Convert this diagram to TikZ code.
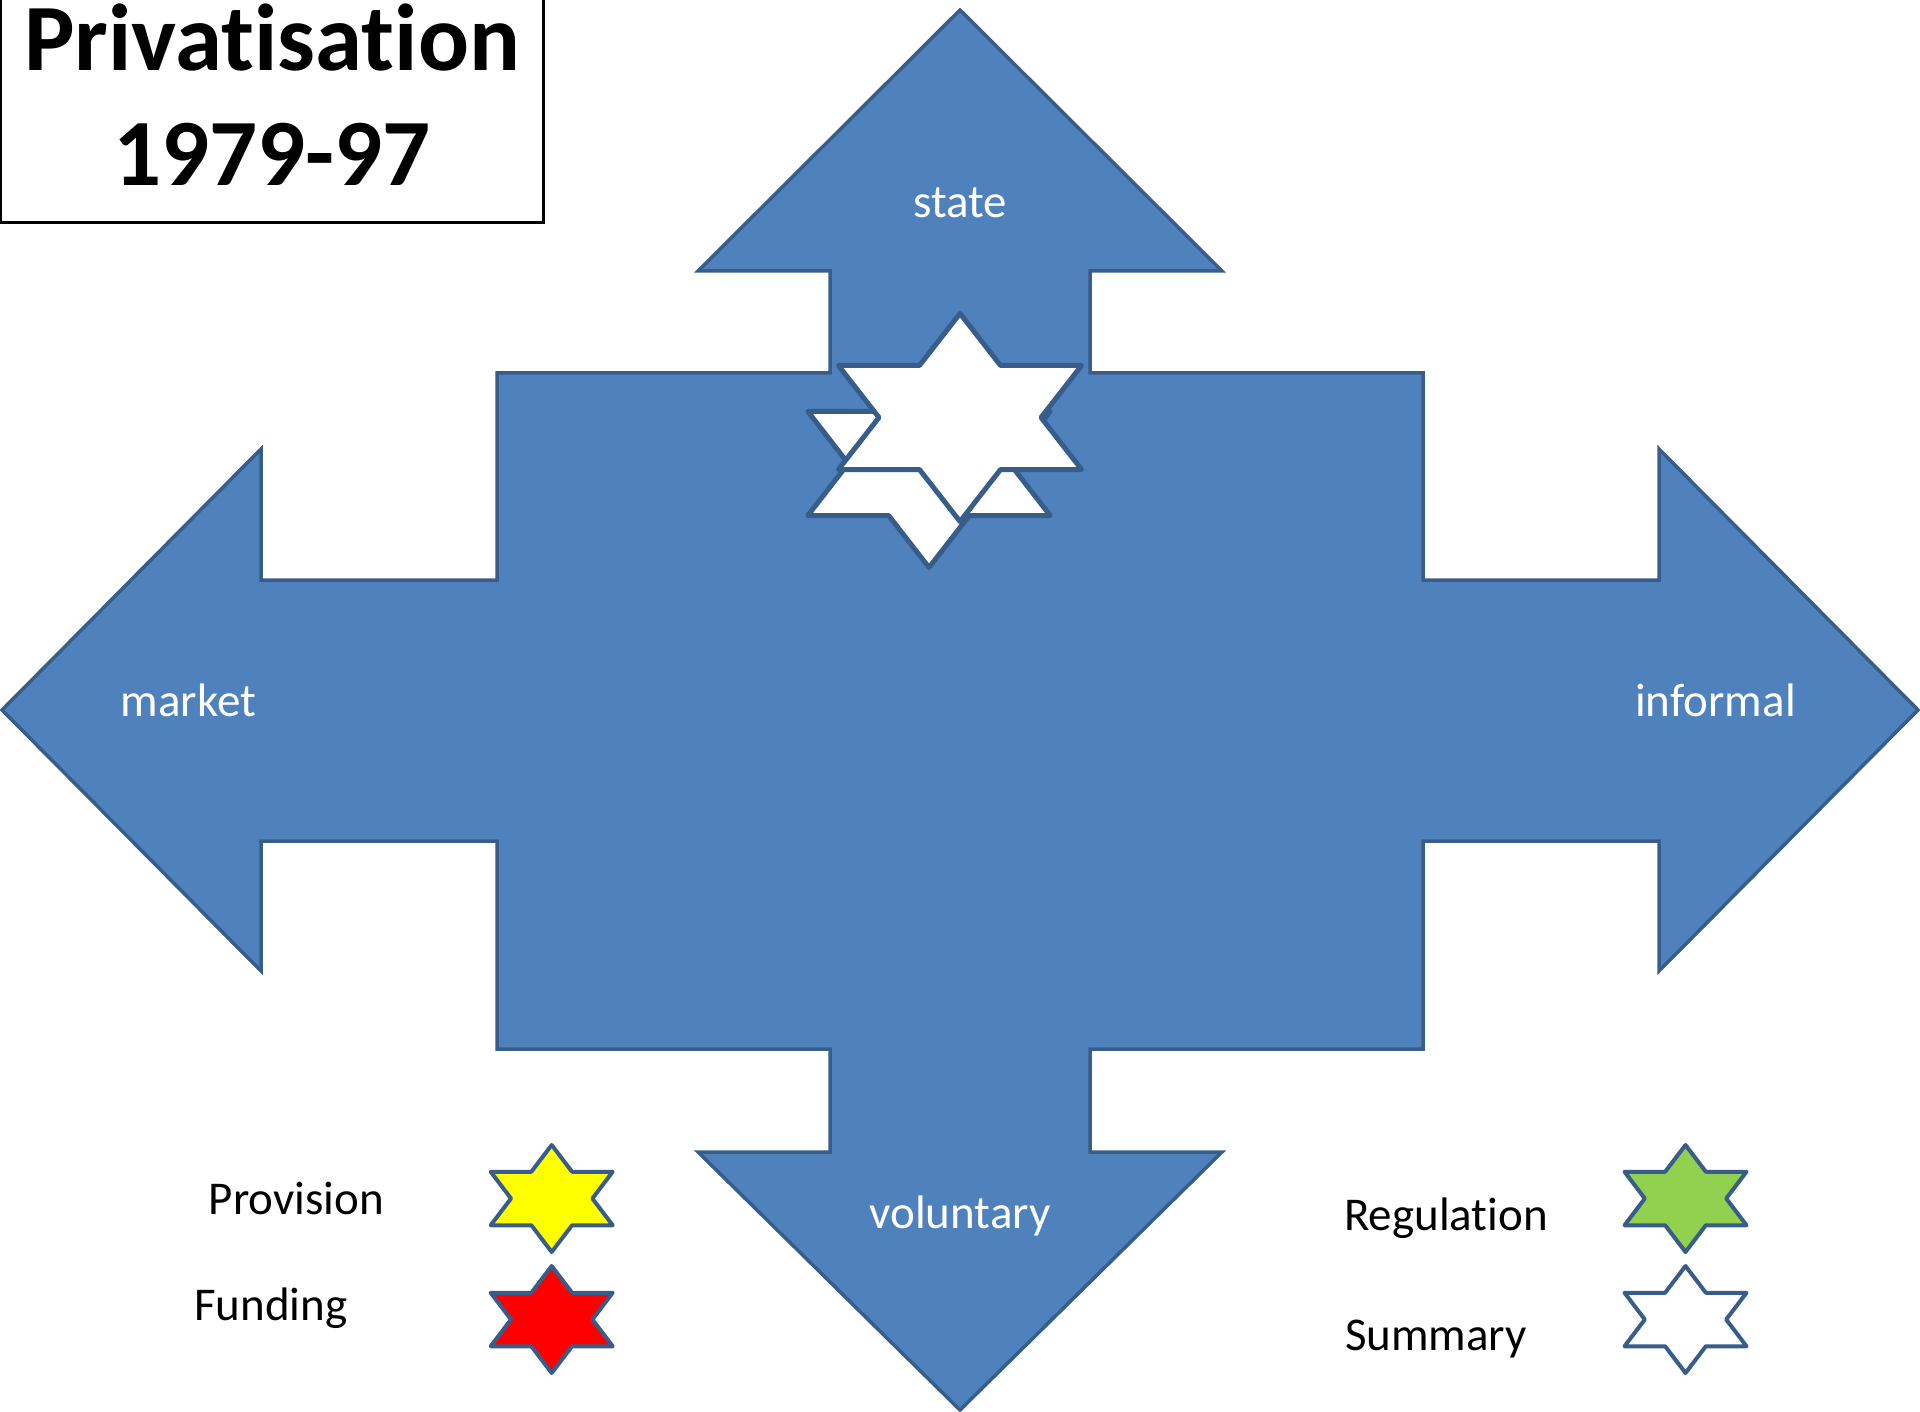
\documentclass[tikz,border=0pt]{standalone}
\usepackage{fontspec}
\setmainfont{Carlito}[RawFeature={-liga}]
\definecolor{arrowfill}{HTML}{4F81BD}
\definecolor{arrowline}{HTML}{385D8A}
\definecolor{provcol}{HTML}{FFFF00}
\definecolor{fundcol}{HTML}{FF0000}
\definecolor{regcol}{HTML}{92D050}
\newcommand\hexagramstar[6]{%
  \begin{scope}[shift={(#1,#2)},xscale=#4]
    \draw[starline,fill=#5,line width=#6]
      (90:#3) -- (60:#3/1.732) -- (30:#3) -- (0:#3/1.732) -- (330:#3) -- (300:#3/1.732)
      -- (270:#3) -- (240:#3/1.732) -- (210:#3) -- (180:#3/1.732) -- (150:#3) -- (120:#3/1.732) -- cycle;
  \end{scope}}
\tikzset{
  bigshape/.style={draw=arrowline,fill=arrowfill,line width=3.5,line join=miter},
  starline/.style={draw=arrowline,line join=round},
  arrowlab/.style={text=white,font=\fontsize{47}{56}\selectfont,anchor=base,inner sep=0},
  legendlab/.style={text=black,font=\fontsize{47}{56}\selectfont,anchor=base,inner sep=0},
  titlelab/.style={text=black,font=\fontsize{95}{115}\selectfont\bfseries,anchor=base,inner sep=0}
}
\begin{document}
\begin{tikzpicture}[x=1pt,y=-1pt]
\useasboundingbox (0,0) rectangle (1920,1412);
% cross of four arrows
\draw[bigshape]
  (960,10) -- (1222,271) -- (1090,271) -- (1090,373) -- (1423,373) -- (1423,580)
  -- (1659,580) -- (1659,449) -- (1918,710) -- (1659,971) -- (1659,841) -- (1423,841)
  -- (1423,1049) -- (1090,1049) -- (1090,1152) -- (1222,1152) -- (960,1410)
  -- (698,1152) -- (830,1152) -- (830,1049) -- (497,1049) -- (497,841)
  -- (261,841) -- (261,971) -- (2,710) -- (261,449) -- (261,580) -- (497,580)
  -- (497,373) -- (830,373) -- (830,271) -- (698,271) -- cycle;
% stars in the middle
\hexagramstar{929}{463.5}{104}{1.345}{white}{5}
\hexagramstar{960}{417.5}{104}{1.35}{white}{5}
% arrow labels
\node[arrowlab] (state) at (960,218) {state};
\node[arrowlab] (market) at (188.5,716) {market};
\node[arrowlab] (informal) at (1715.5,716) {informal};
\node[arrowlab] (voluntary) at (960,1228) {voluntary};
% title
\draw[black,line width=2.2] (1,-5) rectangle (543.5,222.5);
\node[titlelab] (title1) at (272,71) {Privatisation};
\node[titlelab] (title2) at (272,186) {1979-97};
% legend
\node[legendlab] (provision) at (296.5,1214) {Provision};
\node[legendlab] (funding) at (271,1320) {Funding};
\node[legendlab] (regulation) at (1446,1230) {Regulation};
\node[legendlab] (summary) at (1436,1350) {Summary};
\hexagramstar{551.7}{1198.5}{53.5}{1.317}{provcol}{4}
\hexagramstar{551.7}{1319.5}{53.5}{1.317}{fundcol}{4}
\hexagramstar{1685.5}{1198.5}{53.5}{1.317}{regcol}{4}
\hexagramstar{1685.5}{1319.5}{53.5}{1.317}{white}{4}
\end{tikzpicture}
\end{document}
